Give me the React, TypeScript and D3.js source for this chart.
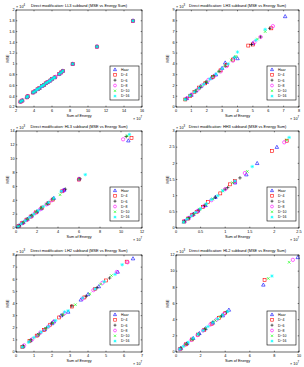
import * as d3 from "d3";

// series order: Haar, D-4, D-6, D-8, D-10, D-16
const seriesNames = ["Haar", "D\u22124", "D\u22126", "D\u22128", "D\u221210", "D\u221216"];
const seriesColors = ["#0000ff", "#ff0000", "#000000", "#ff00ff", "#00ff00", "#00ffff"];
const seriesMarkers = ["triangle", "square", "plus", "circle", "cross", "star"];

const titles = [
  "Direct modification: LL3 subband (MSE vs Energy Sum)",
  "Direct modification: LH3 subband (MSE vs Energy Sum)",
  "Direct modification: HL3 subband (MSE vs Energy Sum)",
  "Direct modification: HH3 subband (MSE vs Energy Sum)",
  "Direct modification: LH2 subband (MSE vs Energy Sum)",
  "Direct modification: HL2 subband (MSE vs Energy Sum)",
];
const xTickSets = [
  [2, 4, 6, 8, 10, 12, 14, 16],
  [0, 1, 2, 3, 4, 5, 6, 7, 8],
  [0, 2, 4, 6, 8, 10, 12],
  [0, 0.5, 1, 1.5, 2, 2.5],
  [0, 1, 2, 3, 4, 5, 6, 7],
  [0, 2, 4, 6, 8, 10],
];
const yTickSets = [
  [0.2, 0.4, 0.6, 0.8, 1, 1.2, 1.4, 1.6, 1.8, 2],
  [0, 1, 2, 3, 4, 5, 6, 7, 8, 9],
  [0, 2, 4, 6, 8, 10, 12, 14],
  [0, 0.5, 1, 1.5, 2, 2.5, 3],
  [0, 1, 2, 3, 4, 5, 6, 7, 8],
  [0, 2, 4, 6, 8, 10, 12],
];
const xExps = ["7", "7", "7", "7", "7", "7"];
const yExps = ["4", "3", "3", "3", "3", "3"];

type P = [number, number];

// LL3
const ll3Haar: P[] = [[2.5,0.30],[2.7,0.32],[3.2,0.38],[3.3,0.40],[3.9,0.47],[4.1,0.49],[4.4,0.53],[4.6,0.55],[4.9,0.59],[5.1,0.61],[5.3,0.64],[5.5,0.66],[5.8,0.69],[6.0,0.72],[6.3,0.75],[6.8,0.81],[7.0,0.84],[7.2,0.87],[8.3,1.0],[11.0,1.32],[15.0,1.8]];
const ll3D4: P[] = [[2.5,0.30],[2.7,0.32],[3.2,0.38],[3.3,0.40],[3.9,0.47],[4.1,0.49],[4.4,0.53],[4.6,0.55],[4.9,0.59],[5.1,0.61],[5.3,0.64],[5.5,0.66],[5.8,0.69],[6.0,0.72],[6.3,0.75],[6.8,0.81],[7.0,0.84],[7.2,0.87],[8.3,1.0],[11.0,1.32],[15.0,1.8]];
const ll3D6: P[] = [[2.5,0.30],[2.7,0.32],[3.2,0.38],[3.3,0.40],[3.9,0.47],[4.1,0.49],[4.4,0.53],[4.7,0.56],[4.9,0.59],[5.2,0.62],[5.3,0.64],[5.6,0.67],[5.8,0.69],[6.1,0.73],[6.3,0.75],[6.8,0.81],[7.0,0.84],[7.2,0.87],[8.3,1.0],[11.0,1.32],[15.0,1.8]];
const ll3D8: P[] = [[2.5,0.30],[2.7,0.32],[3.2,0.38],[3.3,0.40],[3.9,0.47],[4.1,0.49],[4.4,0.53],[4.6,0.55],[4.9,0.59],[5.1,0.61],[5.4,0.65],[5.5,0.66],[5.8,0.69],[6.0,0.72],[6.4,0.76],[6.8,0.81],[7.0,0.84],[7.2,0.87],[8.3,1.0],[11.0,1.32],[15.0,1.8]];
const ll3D10: P[] = [[2.5,0.30],[2.7,0.32],[3.2,0.38],[3.3,0.40],[3.9,0.47],[4.1,0.49],[4.4,0.53],[4.6,0.55],[5.0,0.60],[5.1,0.61],[5.3,0.64],[5.5,0.66],[5.9,0.70],[6.0,0.72],[6.3,0.75],[6.8,0.81],[7.0,0.84],[7.2,0.87],[8.3,1.0],[11.0,1.32],[15.0,1.8]];
const ll3D16: P[] = [[2.5,0.30],[2.7,0.32],[3.2,0.38],[3.3,0.40],[3.9,0.47],[4.1,0.49],[4.3,0.52],[4.4,0.53],[4.6,0.55],[4.8,0.58],[4.9,0.59],[5.1,0.61],[5.3,0.64],[5.5,0.66],[5.7,0.68],[5.8,0.69],[6.0,0.72],[6.2,0.74],[6.3,0.75],[6.8,0.81],[7.0,0.84],[7.2,0.87],[8.3,1.0],[11.0,1.32],[15.0,1.8]];

// LH3
const lh3Haar: P[] = [[0.7,0.8],[1.0,1.1],[1.3,1.5],[1.6,1.9],[2.0,2.3],[2.3,2.7],[2.6,3.0],[3.0,3.6],[3.2,4.1],[4.0,4.5],[5.0,5.9],[7.1,8.4]];
const lh3D4: P[] = [[0.6,0.7],[0.9,1.0],[1.2,1.4],[1.5,1.8],[1.9,2.2],[2.4,2.8],[2.9,3.4],[3.3,3.9],[3.7,4.4],[4.7,5.7],[5.0,5.8],[6.2,7.3]];
const lh3D6: P[] = [[0.65,0.75],[0.95,1.1],[1.25,1.45],[1.55,1.8],[1.95,2.3],[2.45,2.9],[2.8,3.3],[3.2,3.8],[3.8,4.6],[4.9,5.8],[5.5,6.5],[6.1,7.3]];
const lh3D8: P[] = [[0.7,0.8],[1.0,1.15],[1.4,1.6],[1.7,2.0],[2.1,2.5],[2.5,2.9],[2.9,3.3],[3.3,3.8],[3.7,4.3],[5.1,6.0],[5.5,6.5],[6.3,7.5]];
const lh3D10: P[] = [[0.6,0.7],[0.95,1.1],[1.3,1.55],[1.65,1.95],[2.0,2.35],[2.4,2.85],[2.8,3.3],[3.2,3.85],[3.6,4.35],[3.9,4.7],[5.3,6.3],[5.8,7.0]];
const lh3D16: P[] = [[0.6,0.7],[0.9,1.05],[1.2,1.4],[1.5,1.75],[1.8,2.1],[2.2,2.6],[2.6,3.05],[3.0,3.55],[3.4,4.0],[3.8,4.6],[4.0,5.1],[5.2,6.2],[5.8,7.2]];

// HL3
const hl3Haar: P[] = [[0.3,0.35],[0.7,0.8],[1.1,1.3],[1.5,1.75],[2.0,2.35],[2.4,2.8],[3.0,3.5],[3.6,4.3],[4.5,5.4],[4.6,5.5],[6.0,7.1],[10.7,12.6]];
const hl3D4: P[] = [[0.25,0.3],[0.6,0.7],[1.0,1.2],[1.4,1.65],[1.9,2.25],[2.5,2.95],[3.1,3.6],[3.5,4.1],[4.4,5.3],[6.0,7.0],[11.0,13.0]];
const hl3D6: P[] = [[0.3,0.35],[0.65,0.75],[1.05,1.25],[1.5,1.8],[2.0,2.4],[2.4,2.9],[3.0,3.55],[3.5,4.2],[4.7,5.6],[6.1,7.1],[10.5,13.2]];
const hl3D8: P[] = [[0.2,0.25],[0.6,0.7],[1.0,1.15],[1.4,1.65],[1.8,2.15],[2.3,2.7],[2.9,3.4],[3.4,4.0],[4.5,5.4],[6.0,7.0],[10.2,12.8]];
const hl3D10: P[] = [[0.25,0.3],[0.7,0.85],[1.1,1.3],[1.5,1.8],[1.9,2.3],[2.4,2.85],[2.9,3.45],[3.5,4.15],[4.2,4.8],[6.0,7.0],[10.6,13.3]];
const hl3D16: P[] = [[0.2,0.2],[0.5,0.6],[0.9,1.05],[1.3,1.55],[1.7,2.0],[2.1,2.5],[2.6,3.1],[3.1,3.7],[3.6,4.3],[4.3,5.3],[6.6,7.7],[10.8,13.5]];

// HH3
const hh3Haar: P[] = [[0.17,0.2],[0.25,0.3],[0.35,0.42],[0.45,0.53],[0.6,0.7],[0.8,0.95],[1.2,1.4],[1.43,1.65],[1.65,2.0],[2.05,2.5]];
const hh3D4: P[] = [[0.16,0.2],[0.24,0.29],[0.33,0.4],[0.42,0.5],[0.55,0.65],[0.65,0.8],[0.9,1.07],[1.1,1.35],[1.2,1.45],[1.95,2.38],[2.25,2.7]];
const hh3D6: P[] = [[0.18,0.22],[0.27,0.32],[0.36,0.44],[0.47,0.56],[0.58,0.69],[0.8,0.95],[1.0,1.2],[1.05,1.25],[1.3,1.55]];
const hh3D8: P[] = [[0.17,0.21],[0.26,0.31],[0.34,0.41],[0.44,0.53],[0.57,0.68],[0.72,0.86],[1.0,1.2],[1.2,1.42],[1.4,1.7],[2.2,2.65]];
const hh3D10: P[] = [[0.16,0.19],[0.25,0.3],[0.36,0.43],[0.48,0.58],[0.6,0.72],[0.75,0.9],[0.95,1.15],[1.15,1.4],[1.45,1.75],[2.25,2.72]];
const hh3D16: P[] = [[0.15,0.18],[0.22,0.27],[0.31,0.37],[0.4,0.48],[0.5,0.6],[0.62,0.75],[0.72,0.88],[0.85,1.0],[0.95,1.15],[1.2,1.45],[1.55,1.9],[2.3,2.8]];

// LH2
const lh2Haar: P[] = [[0.4,0.45],[0.8,0.95],[1.2,1.4],[1.6,1.85],[2.0,2.35],[2.1,2.5],[2.5,3.0],[2.9,3.3],[3.6,4.3],[4.0,4.75],[4.6,5.4],[5.65,6.6],[6.5,7.7]];
const lh2D4: P[] = [[0.35,0.4],[0.75,0.9],[1.15,1.35],[1.55,1.8],[1.9,2.25],[2.4,2.85],[3.1,3.75],[3.8,4.5],[4.4,5.2],[5.0,5.9],[6.15,7.45]];
const lh2D6: P[] = [[0.4,0.5],[0.85,1.0],[1.3,1.5],[1.7,2.0],[2.0,2.4],[2.6,3.05],[3.1,3.8],[3.9,4.6],[4.5,5.3],[5.2,6.1]];
const lh2D8: P[] = [[0.45,0.55],[0.9,1.05],[1.35,1.6],[1.8,2.1],[2.1,2.5],[2.7,3.2],[3.7,4.4],[4.3,5.1],[4.8,5.7],[5.6,6.6],[6.2,7.4]];
const lh2D10: P[] = [[0.4,0.45],[0.8,0.95],[1.25,1.45],[1.65,1.95],[2.05,2.4],[2.6,3.1],[3.3,3.9],[4.1,4.8],[4.7,5.6],[5.3,6.3]];
const lh2D16: P[] = [[0.35,0.4],[0.7,0.8],[1.0,1.2],[1.4,1.65],[1.8,2.1],[2.2,2.6],[2.7,3.3],[2.9,3.4],[3.7,4.45],[4.4,5.2],[4.9,5.8],[5.5,6.4],[5.9,7.2]];

// HL2
const hl2Haar: P[] = [[0.4,0.45],[0.9,1.05],[1.4,1.7],[1.9,2.3],[2.4,2.9],[3.0,3.6],[3.8,4.5],[4.3,5.2],[7.1,8.3],[9.9,11.7]];
const hl2D4: P[] = [[0.35,0.4],[0.8,0.95],[1.3,1.55],[1.8,2.15],[2.3,2.75],[2.9,3.5],[3.5,4.2],[4.0,4.8],[7.2,8.9]];
const hl2D6: P[] = [[0.4,0.5],[0.85,1.0],[1.35,1.6],[1.85,2.2],[2.35,2.8],[3.0,3.7],[3.7,4.5],[4.1,4.95]];
const hl2D8: P[] = [[0.3,0.35],[0.75,0.9],[1.25,1.5],[1.75,2.1],[2.2,2.65],[2.8,3.4],[3.3,4.0],[3.9,4.7],[9.5,11.4]];
const hl2D10: P[] = [[0.35,0.4],[0.8,0.95],[1.3,1.55],[1.8,2.2],[2.4,2.9],[3.2,3.9],[3.6,4.35],[7.5,9.1],[9.2,11.1]];
const hl2D16: P[] = [[0.3,0.35],[0.6,0.7],[1.0,1.2],[1.4,1.7],[1.8,2.2],[2.2,2.65],[2.6,3.15],[3.0,3.65],[3.4,4.1],[3.8,4.6],[4.2,5.0],[7.8,9.4]];

const panelSeries: P[][][] = [
  [ll3Haar, ll3D4, ll3D6, ll3D8, ll3D10, ll3D16],
  [lh3Haar, lh3D4, lh3D6, lh3D8, lh3D10, lh3D16],
  [hl3Haar, hl3D4, hl3D6, hl3D8, hl3D10, hl3D16],
  [hh3Haar, hh3D4, hh3D6, hh3D8, hh3D10, hh3D16],
  [lh2Haar, lh2D4, lh2D6, lh2D8, lh2D10, lh2D16],
  [hl2Haar, hl2D4, hl2D6, hl2D8, hl2D10, hl2D16],
];

const W = 304;
const H = 367;
const colX = [[16, 142], [176, 299]];
const rowY = [10, 131, 255];
const plotH = 97;
const font = "'Liberation Sans', Arial, sans-serif";

function Marker({ kind, color, x, y, r = 1.75 }: { kind: string; color: string; x: number; y: number; r?: number }) {
  const common = { fill: "none", stroke: color, strokeWidth: 0.6 };
  if (kind === "triangle")
    return <path {...common} d={`M${x},${y - r * 1.1}L${x + r},${y + r * 0.7}L${x - r},${y + r * 0.7}Z`} />;
  if (kind === "square")
    return <rect {...common} x={x - r * 0.85} y={y - r * 0.85} width={r * 1.7} height={r * 1.7} />;
  if (kind === "circle") return <circle {...common} cx={x} cy={y} r={r * 0.95} />;
  if (kind === "plus")
    return <path {...common} d={`M${x - r},${y}H${x + r}M${x},${y - r}V${y + r}`} />;
  const q = r * 0.75;
  if (kind === "cross")
    return <path {...common} d={`M${x - q},${y - q}L${x + q},${y + q}M${x - q},${y + q}L${x + q},${y - q}`} />;
  return (
    <path
      {...common}
      d={`M${x - r},${y}H${x + r}M${x},${y - r}V${y + r}M${x - q},${y - q}L${x + q},${y + q}M${x - q},${y + q}L${x + q},${y - q}`}
    />
  );
}

function fmt(v: number) {
  return String(+v.toFixed(2));
}

function Panel({ idx }: { idx: number }) {
  const [x0, x1] = colX[idx % 2];
  const y0 = rowY[Math.floor(idx / 2)];
  const y1 = y0 + plotH;
  const xTicks = xTickSets[idx];
  const yTicks = yTickSets[idx];
  const x = d3.scaleLinear().domain([xTicks[0], xTicks[xTicks.length - 1]]).range([x0, x1]);
  const y = d3.scaleLinear().domain([yTicks[0], yTicks[yTicks.length - 1]]).range([y1, y0]);
  const tl = 1.3;
  const fs = 3.8;
  const legW = 29;
  const legH = 34;
  const legX = x1 - legW - 3;
  const legY = y1 - legH - 7;
  return (
    <g>
      <rect x={x0} y={y0} width={x1 - x0} height={plotH} fill="#fff" />
      {panelSeries[idx].map((pts, s) =>
        pts.map((p, i) => (
          <Marker key={`${s}-${i}`} kind={seriesMarkers[s]} color={seriesColors[s]} x={x(p[0])} y={y(p[1])} />
        ))
      )}
      <rect x={x0} y={y0} width={x1 - x0} height={plotH} fill="none" stroke="#000" strokeWidth={0.6} />
      {xTicks.map((t) => (
        <g key={`x${t}`}>
          <line x1={x(t)} x2={x(t)} y1={y1} y2={y1 - tl} stroke="#000" strokeWidth={0.5} />
          <line x1={x(t)} x2={x(t)} y1={y0} y2={y0 + tl} stroke="#000" strokeWidth={0.5} />
          <text x={x(t)} y={y1 + 5} fontSize={fs} textAnchor="middle" fontFamily={font}>
            {fmt(t)}
          </text>
        </g>
      ))}
      {yTicks.map((t) => (
        <g key={`y${t}`}>
          <line x1={x0} x2={x0 + tl} y1={y(t)} y2={y(t)} stroke="#000" strokeWidth={0.5} />
          <line x1={x1} x2={x1 - tl} y1={y(t)} y2={y(t)} stroke="#000" strokeWidth={0.5} />
          <text x={x0 - 1.5} y={y(t) + 1.3} fontSize={fs} textAnchor="end" fontFamily={font}>
            {fmt(t)}
          </text>
        </g>
      ))}
      <text x={(x0 + x1) / 2} y={y0 - 3} fontSize={3.9} textAnchor="middle" fontFamily={font}>
        {titles[idx]}
      </text>
      <text x={(x0 + x1) / 2} y={y1 + 10} fontSize={fs} textAnchor="middle" fontFamily={font}>
        Sum of Energy
      </text>
      <text
        transform={`translate(${x0 - 7},${(y0 + y1) / 2}) rotate(-90)`}
        fontSize={fs}
        textAnchor="middle"
        fontFamily={font}
      >
        MSE
      </text>
      <text x={x0} y={y0 - 2} fontSize={fs} fontFamily={font}>
        {"\u00d7 10"}
        <tspan fontSize={2.8} dy={-1.6}>{yExps[idx]}</tspan>
      </text>
      <text x={x1 - 9} y={y1 + 13} fontSize={fs} fontFamily={font}>
        {"\u00d7 10"}
        <tspan fontSize={2.8} dy={-1.6}>{xExps[idx]}</tspan>
      </text>
      <rect x={legX} y={legY} width={legW} height={legH} fill="#fff" stroke="#000" strokeWidth={0.6} />
      {seriesNames.map((n, s) => {
        const ly = legY + 3.6 + s * 5.3;
        return (
          <g key={n}>
            <Marker kind={seriesMarkers[s]} color={seriesColors[s]} x={legX + 5} y={ly} r={1.5} />
            <text x={legX + 11} y={ly + 1.3} fontSize={3.5} fontFamily={font}>
              {n}
            </text>
          </g>
        );
      })}
    </g>
  );
}

export default function App() {
  return (
    <svg
      width={W}
      height={H}
      viewBox={`0 0 ${W} ${H}`}
      style={{ position: "absolute", left: 0, top: 0, background: "#fff" }}
    >
      <rect width={W} height={H} fill="#fff" />
      {[0, 1, 2, 3, 4, 5].map((i) => (
        <Panel key={i} idx={i} />
      ))}
    </svg>
  );
}
